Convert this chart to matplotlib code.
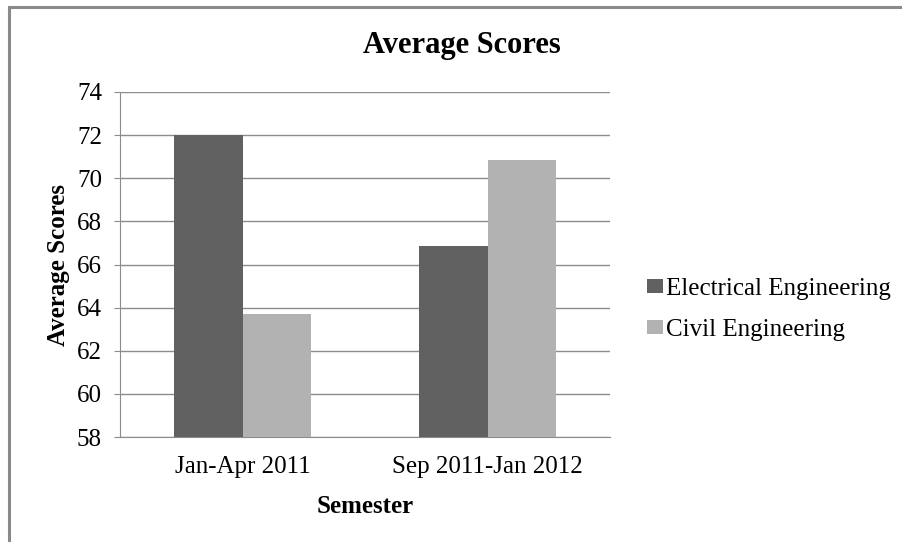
import matplotlib
matplotlib.use("Agg")
import matplotlib.pyplot as plt
import matplotlib.patches as mpatches
import numpy as np

semesters = ["Jan-Apr 2011", "Sep 2011-Jan 2012"]
electrical = [72.0, 66.87]
civil = [63.7, 70.85]
series_names = ["Electrical Engineering", "Civil Engineering"]
yticks = [58, 60, 62, 64, 66, 68, 70, 72, 74]

plt.rcParams['font.family'] = ['Liberation Serif', 'DejaVu Serif']

color1 = '#616161'
color2 = '#b2b2b2'
grid_col = '#8c8c8c'

fig = plt.figure(figsize=(9.02, 5.42), dpi=100)
ax = fig.add_axes([120/902, 1 - 437/542, 490/902, 345/542])

# chart border (runs off the right/bottom edge like the reference)
fig.patches.append(mpatches.Rectangle(
    (9/902, -0.1), 1.1, 1 - 7/542 + 0.1,
    transform=fig.transFigure, fill=False, edgecolor='#8a8a8a', linewidth=2.2))

x = np.arange(len(semesters))
w = 0.28
ax.bar(x - w/2, electrical, w, color=color1, label=series_names[0], zorder=3)
ax.bar(x + w/2, civil, w, color=color2, label=series_names[1], zorder=3)

ax.set_ylim(58, 74)
ax.set_xlim(-0.5, 1.5)
ax.set_yticks(yticks)
ax.set_xticks(x)
ax.set_xticklabels(semesters, fontsize=18)
ax.tick_params(axis='y', labelsize=18, length=4, color=grid_col, pad=9)
ax.tick_params(axis='x', length=0, pad=14)
ax.yaxis.grid(True, color=grid_col, linewidth=1.0, zorder=0)
ax.set_axisbelow(True)

for s in ['top', 'right']:
    ax.spines[s].set_visible(False)
ax.spines['left'].set_color(grid_col)
ax.spines['bottom'].set_color(grid_col)

ax.set_ylabel("Average Scores", fontsize=18, fontweight='bold', labelpad=5)
ax.set_xlabel("Semester", fontsize=18, fontweight='bold', labelpad=12)
fig.text(462/902, 1 - 45/542, "Average Scores", fontsize=22, fontweight='bold',
         ha='center', va='center')

ax.legend(loc='center left', bbox_to_anchor=(1.03, 0.37), frameon=False,
          fontsize=18, handlelength=0.65, handleheight=0.5, handletextpad=0.1,
          labelspacing=0.75)

plt.savefig("out.png", dpi=100)
plt.close()
